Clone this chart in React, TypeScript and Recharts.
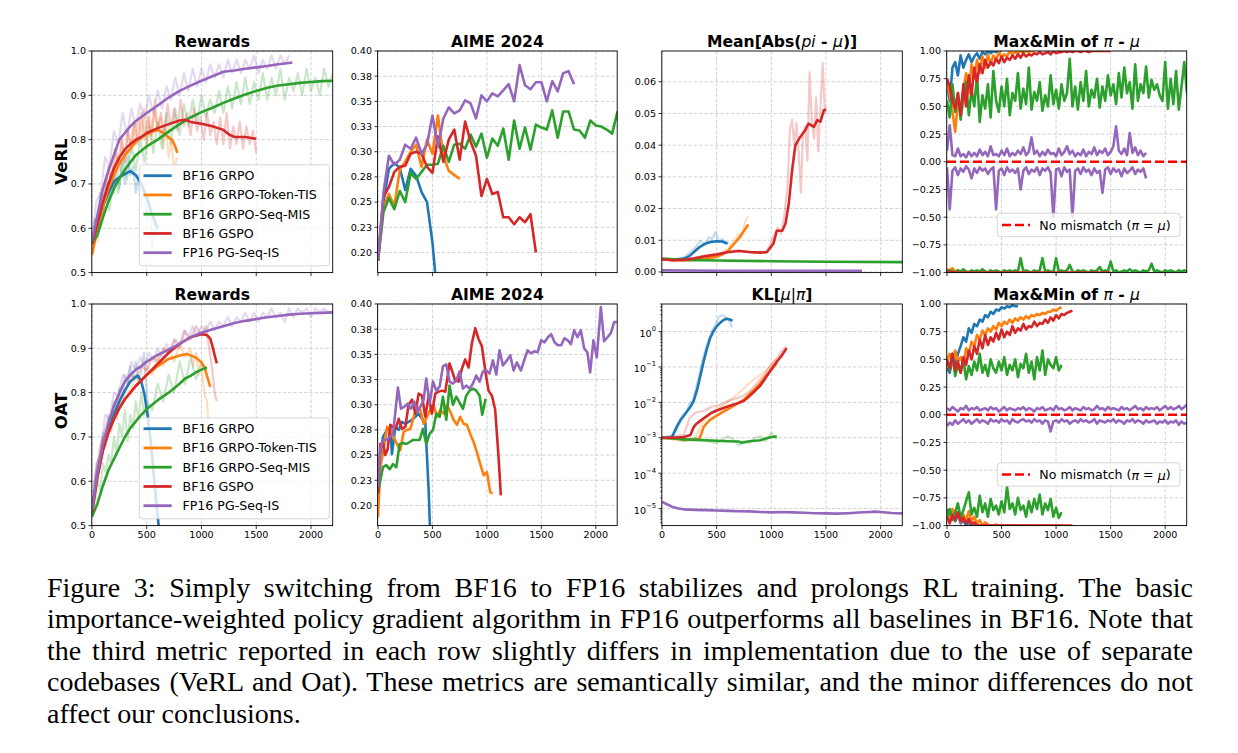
import React from 'react';
import { LineChart, Line, XAxis, YAxis, CartesianGrid } from 'recharts';

// ---------------- colours / names ----------------
const BLUE = '#1f77b4';
const ORANGE = '#ff7f0e';
const GREEN = '#2ca02c';
const RED = '#d62728';
const PURPLE = '#9467bd';
const NOMISMATCH_COLOR = '#ff0000';
const SERIES_NAMES = ['BF16 GRPO', 'BF16 GRPO-Token-TIS', 'BF16 GRPO-Seq-MIS', 'BF16 GSPO', 'FP16 PG-Seq-IS'];
const SERIES_COLORS = [BLUE, ORANGE, GREEN, RED, PURPLE];

// ---------------- axes ----------------
const X_TICKS = [0, 500, 1000, 1500, 2000];
const X_DOMAIN = [0, 2200];
const REWARD_TICKS = [0.5, 0.6, 0.7, 0.8, 0.9, 1.0];
const REWARD_DOMAIN = [0.5, 1.0];
const AIME_TICKS = [0.2, 0.225, 0.25, 0.275, 0.3, 0.325, 0.35, 0.375, 0.4];
const AIME_TICK_LABELS = ['0.20', '0.23', '0.25', '0.28', '0.30', '0.33', '0.35', '0.38', '0.40'];
const AIME_DOMAIN = [0.18, 0.4];
const MEANABS_TICKS = [0, 0.01, 0.02, 0.03, 0.04, 0.05, 0.06];
const MEANABS_DOMAIN = [-0.0002, 0.0697];
const MAXMIN_TICKS = [-1, -0.75, -0.5, -0.25, 0, 0.25, 0.5, 0.75, 1];
const MAXMIN_DOMAIN = [-1, 1];
const KL_MAJOR = [1e-5, 1e-4, 1e-3, 1e-2, 1e-1, 1];
const KL_EXPONENTS = ['\u22125', '\u22124', '\u22123', '\u22122', '\u22121', '0'];
const KL_DOMAIN = [3.3e-6, 6];

// ---------------- helpers ----------------
type Pt = { x: number; y: number };
const pair = (xs: number[], ys: number[]): Pt[] => ys.map((y, i) => ({ x: xs[i], y }));
const onGrid = (step: number, ys: number[]): Pt[] => ys.map((y, i) => ({ x: i * step, y }));

// ================= VeRL : Rewards =================
const V_REW_BLUE_X = [0, 50, 100, 150, 200, 250, 300, 350, 400, 450, 500, 550, 600];
const V_REW_BLUE = [0.565, 0.61, 0.65, 0.68, 0.705, 0.715, 0.722, 0.729, 0.72, 0.70, 0.67, 0.63, 0.60];
const V_REW_ORANGE_X = [0, 50, 100, 150, 200, 250, 300, 350, 400, 450, 500, 550, 600, 650, 700, 730, 760, 780];
const V_REW_ORANGE = [0.54, 0.60, 0.65, 0.69, 0.72, 0.745, 0.765, 0.78, 0.795, 0.805, 0.812, 0.818, 0.822, 0.815, 0.805, 0.80, 0.785, 0.77];
const V_REW_GREEN_X = [0, 50, 100, 150, 200, 250, 300, 400, 500, 600, 700, 800, 900, 1000, 1100, 1200, 1300, 1400, 1500, 1600, 1700, 1800, 1900, 2000, 2100, 2200];
const V_REW_GREEN = [0.565, 0.585, 0.625, 0.66, 0.69, 0.712, 0.732, 0.765, 0.785, 0.80, 0.818, 0.835, 0.85, 0.862, 0.872, 0.883, 0.893, 0.902, 0.91, 0.917, 0.922, 0.925, 0.928, 0.93, 0.932, 0.933];
const V_REW_RED_X = [0, 50, 100, 150, 200, 250, 300, 350, 400, 450, 500, 600, 700, 800, 850, 900, 1000, 1100, 1200, 1250, 1300, 1400, 1500];
const V_REW_RED = [0.565, 0.61, 0.66, 0.70, 0.735, 0.76, 0.778, 0.79, 0.80, 0.806, 0.815, 0.826, 0.835, 0.843, 0.845, 0.84, 0.836, 0.83, 0.822, 0.812, 0.806, 0.806, 0.802];
const V_REW_PURPLE_X = [0, 50, 100, 150, 200, 250, 300, 350, 400, 500, 600, 700, 800, 900, 1000, 1100, 1200, 1300, 1400, 1500, 1600, 1700, 1800, 1830];
const V_REW_PURPLE = [0.57, 0.63, 0.69, 0.73, 0.765, 0.80, 0.815, 0.83, 0.842, 0.86, 0.877, 0.895, 0.91, 0.922, 0.933, 0.943, 0.953, 0.956, 0.96, 0.963, 0.966, 0.97, 0.973, 0.974];

const V_REW_BLUE_RAW = [0.56, 0.62, 0.58, 0.68, 0.63, 0.70, 0.66, 0.72, 0.68, 0.74, 0.69, 0.75, 0.70, 0.77, 0.72, 0.74, 0.68, 0.72, 0.65, 0.70, 0.62, 0.66, 0.55, 0.63, 0.58];
const V_REW_ORANGE_RAW = [0.54, 0.60, 0.57, 0.66, 0.62, 0.72, 0.66, 0.75, 0.70, 0.78, 0.73, 0.80, 0.75, 0.82, 0.77, 0.84, 0.79, 0.85, 0.80, 0.87, 0.78, 0.86, 0.80, 0.89, 0.82, 0.85, 0.78, 0.83, 0.76, 0.80, 0.73, 0.76];
const V_REW_GREEN_RAW = [0.56, 0.60, 0.60, 0.67, 0.64, 0.72, 0.68, 0.76, 0.71, 0.79, 0.73, 0.80, 0.75, 0.83, 0.77, 0.84, 0.78, 0.86, 0.79, 0.87, 0.81, 0.88, 0.83, 0.89, 0.84, 0.90, 0.85, 0.89, 0.86, 0.91, 0.86, 0.92, 0.87, 0.93, 0.88, 0.94, 0.88, 0.93, 0.89, 0.95, 0.89, 0.94, 0.90, 0.96, 0.89, 0.94, 0.91, 0.95, 0.90, 0.96, 0.91, 0.94, 0.90, 0.96, 0.92, 0.95];
const V_REW_RED_RAW = [0.56, 0.62, 0.60, 0.68, 0.66, 0.74, 0.70, 0.78, 0.74, 0.80, 0.75, 0.82, 0.78, 0.84, 0.79, 0.86, 0.80, 0.85, 0.81, 0.87, 0.82, 0.86, 0.81, 0.88, 0.83, 0.87, 0.82, 0.89, 0.83, 0.86, 0.81, 0.87, 0.82, 0.85, 0.80, 0.86, 0.81, 0.84, 0.79, 0.85, 0.79, 0.86, 0.78, 0.83, 0.79, 0.84, 0.78, 0.83, 0.79, 0.82, 0.77];
const V_REW_PURPLE_RAW = [0.57, 0.66, 0.68, 0.76, 0.74, 0.82, 0.79, 0.86, 0.81, 0.87, 0.83, 0.88, 0.85, 0.90, 0.86, 0.91, 0.87, 0.92, 0.89, 0.94, 0.90, 0.95, 0.91, 0.96, 0.92, 0.96, 0.93, 0.97, 0.94, 0.97, 0.94, 0.98, 0.95, 0.98, 0.95, 0.98, 0.96, 0.99, 0.95, 0.98, 0.96, 0.99, 0.96, 0.99, 0.97, 0.99];

// ================= VeRL : AIME 2024 (evaluated every 50 steps) =================
const V_AIME_BLUE = [0.192, 0.25, 0.283, 0.289, 0.284, 0.262, 0.283, 0.276, 0.260, 0.250, 0.21, 0.15];
const V_AIME_ORANGE = [0.192, 0.245, 0.258, 0.246, 0.282, 0.29, 0.30, 0.307, 0.285, 0.312, 0.298, 0.336, 0.296, 0.281, 0.277, 0.273];
const V_AIME_GREEN = [0.192, 0.24, 0.254, 0.243, 0.261, 0.250, 0.279, 0.273, 0.280, 0.287, 0.287, 0.288, 0.306, 0.290, 0.307, 0.308, 0.303, 0.317, 0.305, 0.318, 0.294, 0.313, 0.306, 0.323, 0.292, 0.331, 0.303, 0.324, 0.302, 0.327, 0.324, 0.322, 0.341, 0.314, 0.340, 0.340, 0.322, 0.321, 0.314, 0.331, 0.326, 0.325, 0.322, 0.318, 0.340];
const V_AIME_RED = [0.192, 0.255, 0.265, 0.28, 0.285, 0.286, 0.298, 0.30, 0.298, 0.285, 0.279, 0.315, 0.29, 0.312, 0.322, 0.292, 0.33, 0.31, 0.296, 0.256, 0.273, 0.258, 0.26, 0.235, 0.235, 0.228, 0.235, 0.23, 0.238, 0.20];
const V_AIME_PURPLE = [0.192, 0.259, 0.296, 0.287, 0.292, 0.307, 0.303, 0.314, 0.298, 0.307, 0.336, 0.305, 0.333, 0.344, 0.338, 0.341, 0.351, 0.348, 0.333, 0.356, 0.350, 0.358, 0.355, 0.361, 0.367, 0.350, 0.386, 0.366, 0.362, 0.369, 0.369, 0.350, 0.370, 0.360, 0.378, 0.380, 0.367];

// ================= VeRL : Mean[Abs(pi - mu)] =================
const V_MA_BLUE_X = [0, 100, 200, 250, 300, 350, 400, 450, 500, 550, 600];
const V_MA_BLUE = [0.004, 0.0038, 0.0042, 0.005, 0.0065, 0.008, 0.009, 0.0095, 0.0097, 0.0096, 0.009];
const V_MA_ORANGE_X = [0, 100, 200, 300, 400, 500, 550, 600, 650, 700, 750, 790];
const V_MA_ORANGE = [0.004, 0.0037, 0.0037, 0.0038, 0.0042, 0.0048, 0.0055, 0.0065, 0.0085, 0.0105, 0.013, 0.015];
const V_MA_GREEN_X = [0, 200, 500, 1000, 1500, 2200];
const V_MA_GREEN = [0.0042, 0.0038, 0.0036, 0.0034, 0.0032, 0.0031];
const V_MA_RED_X = [0, 100, 200, 300, 400, 500, 600, 700, 800, 900, 960, 1020, 1050, 1100, 1130, 1160, 1190, 1220, 1265, 1310, 1340, 1390, 1420, 1450, 1480, 1500];
const V_MA_RED = [0.004, 0.0037, 0.0038, 0.0043, 0.005, 0.0055, 0.0062, 0.0066, 0.0063, 0.0061, 0.0063, 0.009, 0.013, 0.013, 0.0153, 0.0216, 0.032, 0.040, 0.0426, 0.0447, 0.0468, 0.0458, 0.0479, 0.0474, 0.051, 0.0513];
const V_MA_PURPLE_X = [0, 500, 1000, 1500, 1830];
const V_MA_PURPLE = [0.0005, 0.0004, 0.0004, 0.0004, 0.0004];
const V_MA_BLUE_RAW_X = [0, 100, 200, 250, 300, 350, 400, 430, 460, 490, 520, 550, 580, 610];
const V_MA_BLUE_RAW = [0.004, 0.0038, 0.0045, 0.006, 0.0075, 0.0098, 0.0085, 0.011, 0.0105, 0.0125, 0.0095, 0.0105, 0.0088, 0.0092];
const V_MA_ORANGE_RAW_X = [0, 200, 400, 500, 550, 600, 650, 700, 730, 760, 790];
const V_MA_ORANGE_RAW = [0.004, 0.0037, 0.0042, 0.005, 0.0062, 0.0072, 0.0095, 0.012, 0.011, 0.016, 0.0175];
const V_MA_RED_RAW_X = [0, 100, 200, 300, 400, 500, 600, 700, 800, 850, 900, 950, 1000, 1030, 1060, 1090, 1120, 1150, 1170, 1190, 1210, 1230, 1250, 1270, 1290, 1310, 1330, 1350, 1370, 1390, 1410, 1430, 1450, 1470, 1490, 1500];
const V_MA_RED_RAW = [0.0042, 0.0038, 0.004, 0.0045, 0.0052, 0.0058, 0.0064, 0.0068, 0.0062, 0.0058, 0.0065, 0.006, 0.0095, 0.012, 0.014, 0.012, 0.018, 0.028, 0.045, 0.048, 0.04, 0.047, 0.038, 0.025, 0.044, 0.046, 0.035, 0.063, 0.048, 0.042, 0.055, 0.038, 0.052, 0.066, 0.05, 0.052];

// ================= VeRL : Max&Min of pi - mu (every 25 steps) =================
const V_MM_BLUE_MAX = [0.72, 0.55, 0.85, 0.90, 0.78, 0.96, 0.85, 0.92, 0.97, 0.90, 0.95, 0.98, 0.93, 0.99, 0.97, 1.0, 0.98, 1.0, 0.99, 1.0, 1.0];
const V_MM_BLUE_MIN = [-0.99, -1.0, -0.99, -1.0, -1.0, -0.99, -1.0, -1.0, -1.0, -1.0, -1.0, -1.0, -1.0, -1.0, -1.0, -1.0, -1.0, -1.0, -1.0, -1.0, -1.0];
const V_MM_ORANGE_MAX = [0.70, 0.62, 0.45, 0.27, 0.55, 0.48, 0.65, 0.80, 0.62, 0.88, 0.75, 0.92, 0.80, 0.95, 0.85, 0.97, 0.88, 0.96, 0.92, 0.99, 0.94, 0.97, 0.95, 1.0, 0.97, 0.99, 0.98, 1.0, 0.99, 1.0, 0.99, 1.0, 1.0];
const V_MM_ORANGE_MIN = [-0.97, -0.98, -0.96, -0.99, -0.98, -1.0, -0.99, -1.0, -0.99, -1.0, -1.0, -0.99, -1.0, -1.0, -0.99, -1.0, -1.0, -1.0, -0.99, -1.0, -1.0, -1.0, -1.0, -0.99, -1.0, -1.0, -1.0, -1.0, -1.0, -1.0, -1.0, -1.0, -1.0];
const V_MM_GREEN_MAX = [
  0.55, 0.40, 0.70, 0.45, 0.62, 0.38, 0.58, 0.72, 0.42, 0.65,
  0.50, 0.78, 0.36, 0.60, 0.48, 0.70, 0.40, 0.82, 0.55, 0.45,
  0.68, 0.50, 0.75, 0.42, 0.62, 0.55, 0.80, 0.48, 0.66, 0.52,
  0.85, 0.47, 0.63, 0.55, 0.72, 0.46, 0.60, 0.50, 0.78, 0.52,
  0.65, 0.48, 0.70, 0.55, 0.62, 0.93, 0.50, 0.68, 0.47, 0.72,
  0.55, 0.82, 0.50, 0.65, 0.58, 0.75, 0.49, 0.68, 0.55, 0.78,
  0.60, 0.70, 0.52, 0.80, 0.58, 0.85, 0.62, 0.72, 0.48, 0.88,
  0.55, 0.70, 0.62, 0.86, 0.58, 0.74, 0.65, 0.70, 0.60, 0.55,
  0.90, 0.48, 0.75, 0.52, 0.82, 0.47, 0.68, 0.90, 0.62];
const V_MM_GREEN_MIN = [
  -0.99, -0.98, -0.99, -1.0, -0.98, -0.99, -0.97, -0.99, -1.0, -0.98,
  -0.99, -0.98, -0.99, -0.97, -0.99, -1.0, -0.98, -0.99, -0.98, -0.99,
  -1.0, -0.98, -0.99, -0.98, -0.99, -0.98, -0.99, -0.87, -0.99, -0.98,
  -0.99, -1.0, -0.98, -0.99, -0.98, -0.87, -0.99, -0.98, -0.99, -1.0,
  -0.87, -0.99, -0.98, -0.99, -0.98, -0.93, -0.99, -1.0, -0.98, -0.99,
  -0.98, -0.99, -1.0, -0.98, -0.99, -0.98, -0.95, -0.99, -0.98, -0.99,
  -0.90, -0.99, -0.98, -1.0, -0.99, -0.98, -0.99, -0.97, -0.99, -0.98,
  -0.99, -1.0, -0.98, -0.99, -0.98, -0.92, -0.99, -0.98, -0.99, -1.0,
  -0.98, -0.99, -0.98, -0.99, -1.0, -0.98, -0.99, -0.98, -0.99];
const V_MM_RED_MAX = [
  0.75, 0.68, 0.55, 0.48, 0.62, 0.42, 0.70, 0.50, 0.78, 0.60,
  0.85, 0.72, 0.88, 0.80, 0.92, 0.85, 0.90, 0.87, 0.93, 0.89,
  0.95, 0.90, 0.94, 0.92, 0.96, 0.93, 0.97, 0.94, 0.98, 0.95,
  0.97, 0.96, 0.98, 0.97, 0.99, 0.97, 0.98, 0.99, 0.97, 1.0,
  0.98, 0.99, 0.99, 1.0, 0.99, 1.0, 0.99, 1.0, 1.0, 0.99,
  1.0, 1.0, 0.99, 1.0, 1.0, 1.0, 1.0, 1.0, 1.0, 1.0, 1.0];
const V_MM_RED_MIN = [-0.99, -1.0, -1.0, -1.0, -1.0, -1.0, -1.0, -1.0, -1.0, -1.0, -1.0, -1.0, -1.0, -1.0, -1.0, -1.0];
const V_MM_PURPLE_MAX = [
  0.10, 0.33, 0.06, 0.05, 0.12, 0.05, 0.07, 0.04, 0.09, 0.05,
  0.08, 0.05, 0.11, 0.06, 0.09, 0.05, 0.14, 0.06, 0.07, 0.05,
  0.10, 0.06, 0.12, 0.05, 0.08, 0.06, 0.10, 0.07, 0.13, 0.06,
  0.09, 0.22, 0.07, 0.10, 0.05, 0.09, 0.06, 0.11, 0.07, 0.08,
  0.05, 0.12, 0.06, 0.09, 0.14, 0.07, 0.10, 0.05, 0.08, 0.06,
  0.11, 0.05, 0.09, 0.07, 0.13, 0.06, 0.10, 0.08, 0.12, 0.06,
  0.09, 0.14, 0.32, 0.10, 0.07, 0.12, 0.06, 0.26, 0.08, 0.13,
  0.06, 0.10, 0.05, 0.08];
const V_MM_PURPLE_MIN = [
  -0.05, -0.43, -0.08, -0.05, -0.12, -0.06, -0.09, -0.04, -0.07, -0.15,
  -0.06, -0.10, -0.05, -0.08, -0.06, -0.11, -0.07, -0.05, -0.43, -0.08,
  -0.06, -0.12, -0.05, -0.09, -0.07, -0.10, -0.06, -0.25, -0.08, -0.05,
  -0.11, -0.07, -0.09, -0.05, -0.12, -0.06, -0.08, -0.05, -0.10, -0.50,
  -0.07, -0.06, -0.13, -0.05, -0.09, -0.07, -0.50, -0.08, -0.06, -0.11,
  -0.05, -0.09, -0.07, -0.12, -0.06, -0.10, -0.08, -0.28, -0.07, -0.05,
  -0.11, -0.06, -0.09, -0.07, -0.13, -0.06, -0.10, -0.08, -0.05, -0.11,
  -0.07, -0.09, -0.06, -0.15];

// ================= OAT : Rewards =================
const O_REW_BLUE_X = [0, 50, 100, 150, 200, 250, 300, 350, 400, 420, 450, 480, 510, 540, 570, 600, 625];
const O_REW_BLUE = [0.53, 0.62, 0.68, 0.72, 0.75, 0.78, 0.805, 0.825, 0.836, 0.838, 0.825, 0.795, 0.745, 0.68, 0.60, 0.52, 0.46];
const O_REW_ORANGE_X = [0, 50, 100, 150, 200, 250, 300, 400, 500, 600, 700, 800, 870, 950, 1000, 1030, 1060, 1080];
const O_REW_ORANGE = [0.53, 0.61, 0.67, 0.71, 0.74, 0.765, 0.785, 0.815, 0.84, 0.86, 0.876, 0.884, 0.887, 0.879, 0.868, 0.855, 0.83, 0.813];
const O_REW_GREEN_X = [0, 50, 100, 150, 200, 250, 300, 350, 400, 450, 500, 600, 700, 800, 850, 900, 950, 1000, 1050];
const O_REW_GREEN = [0.52, 0.55, 0.59, 0.625, 0.65, 0.675, 0.70, 0.72, 0.735, 0.75, 0.763, 0.783, 0.80, 0.82, 0.832, 0.838, 0.846, 0.852, 0.857];
const O_REW_RED_X = [0, 50, 100, 150, 200, 250, 300, 400, 500, 600, 700, 800, 900, 1000, 1050, 1080, 1100, 1120, 1140];
const O_REW_RED = [0.53, 0.61, 0.67, 0.71, 0.74, 0.765, 0.785, 0.815, 0.84, 0.865, 0.89, 0.91, 0.925, 0.932, 0.93, 0.922, 0.905, 0.885, 0.866];
const O_REW_PURPLE_X = [0, 50, 100, 150, 200, 250, 300, 350, 400, 450, 500, 600, 700, 800, 900, 1000, 1100, 1200, 1300, 1400, 1500, 1600, 1700, 1800, 1900, 2000, 2100, 2200];
const O_REW_PURPLE = [0.535, 0.62, 0.685, 0.73, 0.77, 0.80, 0.825, 0.84, 0.852, 0.86, 0.87, 0.885, 0.897, 0.91, 0.925, 0.935, 0.943, 0.95, 0.957, 0.962, 0.966, 0.97, 0.973, 0.976, 0.978, 0.979, 0.98, 0.981];

const O_REW_BLUE_RAW = [0.53, 0.60, 0.64, 0.66, 0.71, 0.69, 0.75, 0.73, 0.78, 0.76, 0.81, 0.79, 0.84, 0.82, 0.86, 0.83, 0.87, 0.82, 0.85, 0.89, 0.80, 0.72, 0.66, 0.57, 0.52, 0.47];
const O_REW_ORANGE_RAW_X = [0, 25, 50, 75, 100, 125, 150, 175, 200, 225, 250, 275, 300, 350, 400, 450, 500, 550, 600, 650, 700, 750, 800, 850, 900, 925, 950, 975, 1000, 1025, 1050, 1065];
const O_REW_ORANGE_RAW = [0.53, 0.58, 0.63, 0.66, 0.70, 0.68, 0.73, 0.71, 0.76, 0.74, 0.78, 0.77, 0.81, 0.80, 0.84, 0.82, 0.86, 0.84, 0.88, 0.86, 0.90, 0.87, 0.91, 0.88, 0.90, 0.86, 0.89, 0.84, 0.86, 0.80, 0.78, 0.73];
const O_REW_RED_RAW_X = [0, 25, 50, 75, 100, 150, 200, 250, 300, 350, 400, 450, 500, 550, 600, 650, 700, 750, 800, 850, 900, 950, 1000, 1040, 1070, 1100, 1120, 1140];
const O_REW_RED_RAW = [0.53, 0.60, 0.64, 0.68, 0.70, 0.74, 0.76, 0.79, 0.80, 0.84, 0.83, 0.86, 0.85, 0.88, 0.87, 0.90, 0.89, 0.92, 0.90, 0.94, 0.92, 0.95, 0.93, 0.95, 0.90, 0.85, 0.80, 0.78];
const O_REW_GREEN_RAW_X = [0, 25, 50, 75, 100, 125, 150, 175, 200, 225, 250, 275, 300, 325, 350, 375, 400, 425, 450, 475, 500, 550, 600, 650, 700, 750, 800, 850, 900, 950, 1000, 1050];
const O_REW_GREEN_RAW = [0.52, 0.55, 0.60, 0.58, 0.64, 0.62, 0.66, 0.64, 0.70, 0.66, 0.73, 0.70, 0.76, 0.69, 0.75, 0.72, 0.78, 0.74, 0.80, 0.75, 0.78, 0.76, 0.82, 0.78, 0.84, 0.80, 0.87, 0.82, 0.88, 0.83, 0.87, 0.85];
const O_REW_PURPLE_RAW = [0.54, 0.64, 0.66, 0.75, 0.74, 0.80, 0.79, 0.84, 0.83, 0.87, 0.85, 0.88, 0.86, 0.89, 0.87, 0.90, 0.88, 0.91, 0.89, 0.92, 0.91, 0.94, 0.92, 0.95, 0.93, 0.95, 0.94, 0.96, 0.94, 0.96, 0.95, 0.97, 0.95, 0.97, 0.96, 0.98, 0.96, 0.98, 0.96, 0.98, 0.97, 0.99, 0.97, 0.98, 0.96, 0.99, 0.97, 0.99, 0.98, 0.99, 0.97, 0.99, 0.98, 0.99, 0.98, 0.98];

// ================= OAT : AIME 2024 =================
const O_AIME_BLUE_X = [0, 21, 46, 83, 113, 128, 159, 190, 220, 251, 281, 312, 343, 373, 404, 434, 465, 480];
const O_AIME_BLUE = [0.212, 0.25, 0.268, 0.275, 0.278, 0.251, 0.278, 0.275, 0.283, 0.281, 0.283, 0.285, 0.288, 0.291, 0.286, 0.283, 0.215, 0.17];
const O_AIME_ORANGE_X = [0, 21, 52, 83, 113, 144, 174, 205, 235, 266, 297, 327, 358, 388, 419, 450, 480, 511, 541, 572, 602, 633, 664, 694, 725, 755, 786, 817, 847, 878, 908, 939, 970, 1000, 1031, 1052];
const O_AIME_ORANGE = [0.188, 0.238, 0.256, 0.278, 0.275, 0.268, 0.261, 0.255, 0.273, 0.275, 0.276, 0.288, 0.298, 0.295, 0.281, 0.288, 0.295, 0.30, 0.288, 0.295, 0.291, 0.30, 0.293, 0.285, 0.28, 0.288, 0.281, 0.28, 0.271, 0.263, 0.253, 0.241, 0.23, 0.233, 0.213, 0.212];
const O_AIME_GREEN_X = [0, 21, 46, 76, 107, 138, 168, 199, 229, 260, 291, 321, 352, 382, 413, 443, 474, 505, 535, 566, 596, 627, 657, 688, 719, 749, 780, 810, 841, 872, 902, 933, 957, 988];
const O_AIME_GREEN = [0.212, 0.225, 0.238, 0.24, 0.236, 0.241, 0.238, 0.261, 0.262, 0.261, 0.263, 0.265, 0.265, 0.265, 0.276, 0.261, 0.271, 0.275, 0.291, 0.288, 0.308, 0.285, 0.319, 0.30, 0.308, 0.302, 0.296, 0.309, 0.314, 0.316, 0.314, 0.309, 0.29, 0.306];
const O_AIME_RED_X = [0, 21, 46, 67, 89, 113, 138, 162, 190, 220, 251, 281, 312, 343, 373, 404, 434, 465, 495, 526, 557, 587, 618, 657, 679, 709, 740, 771, 801, 832, 862, 893, 924, 954, 985, 1015, 1046, 1076, 1107, 1128];
const O_AIME_RED = [0.212, 0.261, 0.262, 0.25, 0.256, 0.28, 0.278, 0.276, 0.286, 0.276, 0.278, 0.30, 0.305, 0.291, 0.311, 0.309, 0.288, 0.309, 0.291, 0.311, 0.313, 0.314, 0.313, 0.341, 0.334, 0.324, 0.323, 0.336, 0.345, 0.337, 0.361, 0.376, 0.365, 0.358, 0.334, 0.314, 0.309, 0.295, 0.248, 0.21];
const O_AIME_PURPLE_X = [0, 21, 46, 76, 107, 138, 183, 211, 242, 272, 303, 333, 364, 394, 419, 443, 474, 505, 535, 566, 596, 627, 657, 688, 719, 749, 780, 810, 841, 872, 902, 933, 963, 994, 1024, 1055, 1086, 1116, 1147, 1177, 1214, 1245, 1275, 1312, 1342, 1373, 1404, 1434, 1465, 1498, 1529, 1560, 1590, 1621, 1651, 1682, 1712, 1743, 1771, 1801, 1832, 1862, 1893, 1923, 1948, 1978, 2009, 2046, 2076, 2107, 2138, 2168, 2193];
const O_AIME_PURPLE = [0.218, 0.256, 0.265, 0.265, 0.268, 0.271, 0.317, 0.296, 0.298, 0.301, 0.296, 0.303, 0.293, 0.299, 0.305, 0.326, 0.301, 0.323, 0.314, 0.318, 0.338, 0.340, 0.323, 0.321, 0.324, 0.333, 0.316, 0.319, 0.316, 0.321, 0.329, 0.323, 0.333, 0.334, 0.331, 0.344, 0.330, 0.354, 0.339, 0.343, 0.349, 0.334, 0.342, 0.334, 0.344, 0.354, 0.351, 0.353, 0.352, 0.364, 0.362, 0.367, 0.370, 0.362, 0.359, 0.359, 0.366, 0.364, 0.360, 0.374, 0.367, 0.374, 0.356, 0.352, 0.332, 0.364, 0.347, 0.397, 0.363, 0.367, 0.371, 0.382, 0.382];

// ================= OAT : KL[mu|pi] =================
const O_KL_BLUE_X = [0, 50, 90, 110, 140, 170, 200, 230, 260, 290, 320, 350, 380, 410, 440, 470, 500, 530, 560, 590, 620, 645];
const O_KL_BLUE = [1.0e-3, 1.0e-3, 1.0e-3, 1.4e-3, 2.2e-3, 3.2e-3, 4.2e-3, 5.6e-3, 7.5e-3, 0.011, 0.022, 0.055, 0.14, 0.32, 0.65, 1.0, 1.4, 1.75, 2.1, 2.3, 2.2, 2.0];
const O_KL_ORANGE_X = [0, 100, 200, 300, 340, 360, 380, 410, 440, 500, 550, 600, 650, 700, 750, 800, 850, 900, 950, 1000, 1050];
const O_KL_ORANGE = [1.0e-3, 0.95e-3, 0.9e-3, 0.88e-3, 0.92e-3, 1.3e-3, 2.0e-3, 2.6e-3, 3.2e-3, 4.2e-3, 5.2e-3, 6.3e-3, 7.8e-3, 9.6e-3, 0.012, 0.017, 0.024, 0.035, 0.056, 0.085, 0.13];
const O_KL_GREEN_X = [0, 100, 200, 300, 400, 500, 600, 700, 730, 800, 900, 950, 1000, 1050];
const O_KL_GREEN = [1.0e-3, 0.95e-3, 0.9e-3, 0.87e-3, 0.85e-3, 0.82e-3, 0.8e-3, 0.78e-3, 0.72e-3, 0.8e-3, 0.85e-3, 0.95e-3, 1.05e-3, 1.08e-3];
const O_KL_RED_X = [0, 100, 200, 260, 290, 310, 350, 400, 450, 500, 550, 600, 650, 700, 750, 800, 850, 900, 950, 1000, 1050, 1100, 1140];
const O_KL_RED = [1.0e-3, 1.0e-3, 1.05e-3, 1.2e-3, 2.0e-3, 2.4e-3, 3.0e-3, 3.9e-3, 5.0e-3, 5.9e-3, 6.7e-3, 7.6e-3, 8.6e-3, 9.6e-3, 0.011, 0.015, 0.021, 0.03, 0.05, 0.085, 0.14, 0.22, 0.34];
const O_KL_PURPLE_X = [0, 50, 100, 150, 200, 300, 400, 500, 600, 700, 800, 900, 1000, 1100, 1200, 1300, 1400, 1500, 1600, 1700, 1800, 1900, 1950, 2000, 2100, 2200];
const O_KL_PURPLE = [1.55e-5, 1.3e-5, 1.1e-5, 1.0e-5, 0.95e-5, 0.92e-5, 0.9e-5, 0.88e-5, 0.86e-5, 0.84e-5, 0.83e-5, 0.8e-5, 0.78e-5, 0.8e-5, 0.78e-5, 0.76e-5, 0.74e-5, 0.73e-5, 0.72e-5, 0.74e-5, 0.77e-5, 0.8e-5, 0.82e-5, 0.8e-5, 0.75e-5, 0.73e-5];
const O_KL_BLUE_RAW_X = [0, 50, 100, 130, 160, 190, 220, 250, 280, 310, 340, 370, 400, 430, 460, 490, 520, 550, 580, 610, 640];
const O_KL_BLUE_RAW = [0.001, 0.0011, 0.0012, 0.0016, 0.0025, 0.0045, 0.005, 0.009, 0.011, 0.025, 0.06, 0.15, 0.35, 0.6, 1.1, 1.6, 2.6, 2.9, 2.6, 2.2, 1.3];
const O_KL_ORANGE_RAW_X = [0, 100, 200, 300, 340, 380, 450, 500, 600, 700, 800, 900, 1000, 1050];
const O_KL_ORANGE_RAW = [0.001, 0.0009, 0.0008, 0.0009, 0.0018, 0.003, 0.005, 0.0065, 0.01, 0.018, 0.035, 0.06, 0.11, 0.18];
const O_KL_GREEN_RAW_X = [0, 100, 200, 300, 400, 500, 600, 650, 700, 750, 800, 850, 900, 950, 1000, 1050];
const O_KL_GREEN_RAW = [0.0009, 0.0011, 0.0008, 0.001, 0.0008, 0.0007, 0.0011, 0.0009, 0.0006, 0.0008, 0.0007, 0.001, 0.0011, 0.0008, 0.0014, 0.0009];
const O_KL_RED_RAW_X = [0, 100, 200, 250, 300, 350, 400, 450, 500, 550, 600, 650, 700, 750, 800, 850, 900, 950, 1000, 1050, 1100, 1140];
const O_KL_RED_RAW = [0.001, 0.0011, 0.0012, 0.0035, 0.005, 0.0055, 0.006, 0.0075, 0.008, 0.009, 0.011, 0.012, 0.0135, 0.016, 0.02, 0.03, 0.045, 0.07, 0.12, 0.17, 0.3, 0.38];

// ================= OAT : Max&Min of pi - mu (every 25 steps) =================
const O_MM_BLUE_MAX = [0.42, 0.38, 0.50, 0.45, 0.55, 0.62, 0.70, 0.66, 0.78, 0.74, 0.82, 0.80, 0.86, 0.84, 0.90, 0.88, 0.93, 0.91, 0.95, 0.94, 0.97, 0.96, 0.98, 0.97, 0.99, 0.98, 0.98];
const O_MM_BLUE_MIN = [-0.85, -0.92, -0.88, -0.96, -0.90, -0.98, -0.95, -1.0, -0.97, -1.0, -1.0, -0.99, -1.0, -1.0, -1.0, -1.0, -1.0, -1.0, -1.0, -1.0, -1.0, -1.0, -1.0, -1.0, -1.0, -1.0, -1.0];
const O_MM_ORANGE_MAX = [
  0.50, 0.55, 0.45, 0.58, 0.48, 0.52, 0.45, 0.60, 0.55, 0.66,
  0.62, 0.72, 0.68, 0.76, 0.72, 0.78, 0.75, 0.80, 0.77, 0.83,
  0.80, 0.84, 0.82, 0.86, 0.83, 0.87, 0.85, 0.88, 0.86, 0.89,
  0.87, 0.90, 0.89, 0.91, 0.90, 0.92, 0.91, 0.93, 0.93, 0.95,
  0.94, 0.96, 0.97];
const O_MM_ORANGE_MIN = [
  -0.88, -0.95, -0.85, -0.92, -0.88, -0.97, -0.90, -0.95, -0.87, -0.96,
  -0.92, -0.98, -0.95, -1.0, -0.97, -0.99, -1.0, -1.0, -0.99, -1.0,
  -1.0, -1.0, -1.0, -1.0, -1.0, -1.0, -1.0, -1.0, -1.0, -1.0,
  -1.0, -1.0, -1.0, -1.0, -1.0, -1.0, -1.0, -1.0, -1.0, -1.0,
  -1.0, -1.0, -1.0];
const O_MM_GREEN_MAX = [
  0.48, 0.40, 0.55, 0.35, 0.45, 0.38, 0.50, 0.32, 0.44, 0.36,
  0.48, 0.40, 0.55, 0.38, 0.45, 0.35, 0.50, 0.42, 0.38, 0.48,
  0.40, 0.52, 0.36, 0.45, 0.40, 0.50, 0.34, 0.46, 0.42, 0.55,
  0.38, 0.48, 0.32, 0.52, 0.40, 0.58, 0.36, 0.50, 0.45, 0.42,
  0.52, 0.40, 0.45];
const O_MM_GREEN_MIN = [
  -0.92, -0.85, -0.95, -0.88, -0.80, -0.93, -0.86, -0.78, -0.70, -0.90,
  -0.84, -0.92, -0.73, -0.88, -0.80, -0.92, -0.76, -0.86, -0.82, -0.90,
  -0.78, -0.88, -0.65, -0.85, -0.80, -0.90, -0.75, -0.86, -0.82, -0.92,
  -0.78, -0.88, -0.76, -0.85, -0.72, -0.90, -0.80, -0.86, -0.76, -0.92,
  -0.84, -0.93, -0.88];
const O_MM_RED_MAX = [
  0.50, 0.42, 0.55, 0.40, 0.48, 0.38, 0.52, 0.45, 0.58, 0.50,
  0.62, 0.55, 0.68, 0.60, 0.72, 0.63, 0.70, 0.66, 0.74, 0.68,
  0.77, 0.70, 0.75, 0.72, 0.80, 0.74, 0.78, 0.76, 0.82, 0.77,
  0.80, 0.79, 0.84, 0.80, 0.83, 0.82, 0.86, 0.83, 0.88, 0.85,
  0.90, 0.87, 0.91, 0.90, 0.92, 0.93, 0.94];
const O_MM_RED_MIN = [
  -0.92, -0.98, -0.90, -0.95, -0.88, -0.96, -0.93, -0.98, -0.94, -0.99,
  -0.97, -1.0, -1.0, -1.0, -1.0, -1.0, -1.0, -1.0, -1.0, -1.0,
  -1.0, -1.0, -1.0, -1.0, -1.0, -1.0, -1.0, -1.0, -1.0, -1.0,
  -1.0, -1.0, -1.0, -1.0, -1.0, -1.0, -1.0, -1.0, -1.0, -1.0,
  -1.0, -1.0, -1.0, -1.0, -1.0, -1.0, -1.0];
const O_MM_PURPLE_MAX = [
  0.06, 0.04, 0.07, 0.05, 0.03, 0.06, 0.05, 0.08, 0.04, 0.06,
  0.05, 0.07, 0.04, 0.05, 0.06, 0.04, 0.07, 0.05, 0.06, 0.03,
  0.05, 0.07, 0.04, 0.06, 0.05, 0.04, 0.06, 0.05, 0.07, 0.04,
  0.06, 0.05, 0.03, 0.06, 0.05, 0.07, 0.04, 0.05, 0.06, 0.04,
  0.08, 0.05, 0.06, 0.04, 0.05, 0.07, 0.04, 0.06, 0.05, 0.04,
  0.07, 0.05, 0.06, 0.04, 0.05, 0.08, 0.05, 0.06, 0.04, 0.07,
  0.05, 0.06, 0.05, 0.04, 0.07, 0.05, 0.06, 0.04, 0.06, 0.08,
  0.05, 0.06, 0.04, 0.07, 0.05, 0.06, 0.05, 0.07, 0.04, 0.06,
  0.08, 0.05, 0.07, 0.05, 0.06, 0.08, 0.05, 0.07, 0.09];
const O_MM_PURPLE_MIN = [
  -0.10, -0.07, -0.09, -0.05, -0.08, -0.06, -0.04, -0.07, -0.05, -0.08,
  -0.06, -0.04, -0.07, -0.05, -0.06, -0.08, -0.04, -0.06, -0.05, -0.07,
  -0.04, -0.06, -0.05, -0.08, -0.04, -0.06, -0.07, -0.05, -0.04, -0.06,
  -0.05, -0.07, -0.04, -0.06, -0.05, -0.08, -0.05, -0.06, -0.15, -0.06,
  -0.05, -0.07, -0.04, -0.06, -0.05, -0.08, -0.06, -0.05, -0.07, -0.04,
  -0.06, -0.05, -0.07, -0.06, -0.04, -0.08, -0.05, -0.06, -0.07, -0.05,
  -0.06, -0.04, -0.07, -0.05, -0.06, -0.08, -0.05, -0.06, -0.04, -0.07,
  -0.05, -0.06, -0.08, -0.05, -0.07, -0.06, -0.05, -0.08, -0.06, -0.07,
  -0.05, -0.08, -0.06, -0.07, -0.05, -0.09, -0.06, -0.08, -0.07];
const NO_MISMATCH_X = [0, 2200];
const NO_MISMATCH_Y = [0, 0];

// ---------------- text ----------------
const CAPTION_LINES = [
  'Figure 3: Simply switching from BF16 to FP16 stabilizes and prolongs RL training. The basic',
  'importance-weighted policy gradient algorithm in FP16 outperforms all baselines in BF16. Note that',
  'the third metric reported in each row slightly differs in implementation due to the use of separate',
  'codebases (VeRL and Oat). These metrics are semantically similar, and the minor differences do not',
  'affect our conclusions.',
];

// ---------------- layout ----------------
const FONT = "'DejaVu Sans', Verdana, sans-serif";
const COL_LEFT = [91.8, 377.6, 661.8, 946.7];
const COL_W = [240.9, 239.6, 240.5, 240.0];
const ROW_TOP = [51, 304];
const PLOT_H = 221.6;
const YW = 52;
const RM = 4;
const TM = 12;
const XH = 24;
const TICK_SIZE = 3.5;
const TICK_MARGIN = 2.5;
const TICK_FS = 9.6;
const LW = 2.6;

type S = { id: string; data: Pt[]; color: string; w: number; op: number; dash?: string };
const main = (id: string, data: Pt[], color: string): S => ({ id, data, color, w: LW, op: 1 });
const raw = (id: string, data: Pt[], color: string): S => ({ id, data, color, w: 2.2, op: 0.25 });

const KL_MINOR: number[] = [];
[-6, -5, -4, -3, -2, -1, 0].forEach((e) => {
  [2, 3, 4, 5, 6, 7, 8, 9].forEach((m) => {
    const v = m * Math.pow(10, e);
    if (v >= KL_DOMAIN[0] && v <= KL_DOMAIN[1]) KL_MINOR.push(v);
  });
});
const KL_TICKS = [...KL_MAJOR, ...KL_MINOR].sort((a, b) => a - b);

function KLTick(props: any) {
  const { x, y, payload } = props;
  const v = payload.value as number;
  const idx = KL_MAJOR.indexOf(v);
  const ax = x + TICK_SIZE + TICK_MARGIN;
  return (
    <g>
      <line x1={ax - (idx >= 0 ? TICK_SIZE : 2)} x2={ax} y1={y} y2={y} stroke="#000" strokeWidth={idx >= 0 ? 0.8 : 0.6} />
      {idx >= 0 && (
        <text x={x} y={y + 2} textAnchor="end" dominantBaseline="central" fontFamily={FONT} fontSize={TICK_FS} fill="#000">
          10
          <tspan dy={-4.5} fontSize={6.8}>{KL_EXPONENTS[idx]}</tspan>
        </text>
      )}
    </g>
  );
}

type PanelProps = {
  col: number;
  row: number;
  series: S[];
  yDomain: number[];
  yTicks: number[];
  gridY: number[];
  yFmt?: (v: number) => string;
  log?: boolean;
};

function Panel({ col, row, series, yDomain, yTicks, gridY, yFmt, log }: PanelProps) {
  const w = COL_W[col];
  const showX = row === 1;
  const tickStyle = { fontSize: TICK_FS, fill: '#000', fontFamily: FONT };
  return (
    <div style={{ position: 'absolute', left: COL_LEFT[col] - YW, top: ROW_TOP[row] - TM }}>
      <LineChart width={YW + w + RM} height={TM + PLOT_H + XH} margin={{ top: TM, right: RM, bottom: 0, left: 0 }}>
        <CartesianGrid
          stroke="#c8c8c8"
          strokeWidth={0.8}
          strokeDasharray="3.5 1.8"
          horizontalValues={gridY}
          verticalValues={X_TICKS}
        />
        <XAxis
          dataKey="x"
          type="number"
          domain={X_DOMAIN}
          ticks={X_TICKS}
          interval={0}
          allowDataOverflow
          axisLine={false}
          tickLine={{ stroke: '#000', strokeWidth: 0.8 }}
          tickSize={TICK_SIZE}
          tickMargin={2}
          height={XH}
          tick={tickStyle}
          tickFormatter={showX ? (v: number) => String(v) : () => ''}
        />
        {log ? (
          <YAxis
            type="number"
            scale="log"
            domain={yDomain}
            ticks={KL_TICKS}
            interval={0}
            allowDataOverflow
            width={YW}
            axisLine={false}
            tickLine={false}
            tickSize={TICK_SIZE}
            tickMargin={TICK_MARGIN}
            tick={KLTick}
          />
        ) : (
          <YAxis
            type="number"
            domain={yDomain}
            ticks={yTicks}
            interval={0}
            allowDataOverflow
            width={YW}
            axisLine={false}
            tickLine={{ stroke: '#000', strokeWidth: 0.8 }}
            tickSize={TICK_SIZE}
            tickMargin={TICK_MARGIN}
            tick={tickStyle}
            tickFormatter={yFmt}
          />
        )}
        {series.map((s) => (
          <Line
            key={s.id}
            data={s.data}
            dataKey="y"
            type="linear"
            stroke={s.color}
            strokeWidth={s.w}
            strokeOpacity={s.op}
            strokeDasharray={s.dash}
            strokeLinejoin="round"
            dot={false}
            activeDot={false}
            isAnimationActive={false}
          />
        ))}
      </LineChart>
    </div>
  );
}

const fmt1 = (v: number) => v.toFixed(1);
const fmt2 = (v: number) => v.toFixed(2);
const fmtMM = (v: number) => v.toFixed(2).replace('-', '\u2212');
const fmtAime = (v: number) => AIME_TICK_LABELS[AIME_TICKS.indexOf(v)] ?? v.toFixed(2);

// ---------------- series per panel ----------------
const P_V_REW: S[] = [
  raw('br', onGrid(25, V_REW_BLUE_RAW), BLUE),
  raw('or', onGrid(25, V_REW_ORANGE_RAW), ORANGE),
  raw('gr', onGrid(40, V_REW_GREEN_RAW), GREEN),
  raw('rr', onGrid(30, V_REW_RED_RAW), RED),
  raw('pr', onGrid(40, V_REW_PURPLE_RAW), PURPLE),
  main('b', pair(V_REW_BLUE_X, V_REW_BLUE), BLUE),
  main('o', pair(V_REW_ORANGE_X, V_REW_ORANGE), ORANGE),
  main('g', pair(V_REW_GREEN_X, V_REW_GREEN), GREEN),
  main('r', pair(V_REW_RED_X, V_REW_RED), RED),
  main('p', pair(V_REW_PURPLE_X, V_REW_PURPLE), PURPLE),
];
const P_V_AIME: S[] = [
  main('b', onGrid(50, V_AIME_BLUE), BLUE),
  main('o', onGrid(50, V_AIME_ORANGE), ORANGE),
  main('g', onGrid(50, V_AIME_GREEN), GREEN),
  main('r', onGrid(50, V_AIME_RED), RED),
  main('p', onGrid(50, V_AIME_PURPLE), PURPLE),
];
const P_V_MA: S[] = [
  raw('br', pair(V_MA_BLUE_RAW_X, V_MA_BLUE_RAW), BLUE),
  raw('or', pair(V_MA_ORANGE_RAW_X, V_MA_ORANGE_RAW), ORANGE),
  raw('rr', pair(V_MA_RED_RAW_X, V_MA_RED_RAW), RED),
  main('b', pair(V_MA_BLUE_X, V_MA_BLUE), BLUE),
  main('o', pair(V_MA_ORANGE_X, V_MA_ORANGE), ORANGE),
  main('g', pair(V_MA_GREEN_X, V_MA_GREEN), GREEN),
  main('r', pair(V_MA_RED_X, V_MA_RED), RED),
  main('p', pair(V_MA_PURPLE_X, V_MA_PURPLE), PURPLE),
];
const P_V_MM: S[] = [
  main('bmax', onGrid(25, V_MM_BLUE_MAX), BLUE),
  main('bmin', onGrid(25, V_MM_BLUE_MIN), BLUE),
  main('omax', onGrid(25, V_MM_ORANGE_MAX), ORANGE),
  main('omin', onGrid(25, V_MM_ORANGE_MIN), ORANGE),
  main('gmax', onGrid(25, V_MM_GREEN_MAX), GREEN),
  main('gmin', onGrid(25, V_MM_GREEN_MIN), GREEN),
  main('rmax', onGrid(25, V_MM_RED_MAX), RED),
  main('rmin', onGrid(100, V_MM_RED_MIN), RED),
  main('pmax', onGrid(25, V_MM_PURPLE_MAX), PURPLE),
  main('pmin', onGrid(25, V_MM_PURPLE_MIN), PURPLE),
  { id: 'zero', data: pair(NO_MISMATCH_X, NO_MISMATCH_Y), color: NOMISMATCH_COLOR, w: 2.6, op: 1, dash: '9 4' },
];
const P_O_REW: S[] = [
  raw('br', onGrid(25, O_REW_BLUE_RAW), BLUE),
  raw('or', pair(O_REW_ORANGE_RAW_X, O_REW_ORANGE_RAW), ORANGE),
  raw('gr', pair(O_REW_GREEN_RAW_X, O_REW_GREEN_RAW), GREEN),
  raw('rr', pair(O_REW_RED_RAW_X, O_REW_RED_RAW), RED),
  raw('pr', onGrid(40, O_REW_PURPLE_RAW), PURPLE),
  main('b', pair(O_REW_BLUE_X, O_REW_BLUE), BLUE),
  main('o', pair(O_REW_ORANGE_X, O_REW_ORANGE), ORANGE),
  main('g', pair(O_REW_GREEN_X, O_REW_GREEN), GREEN),
  main('r', pair(O_REW_RED_X, O_REW_RED), RED),
  main('p', pair(O_REW_PURPLE_X, O_REW_PURPLE), PURPLE),
];
const P_O_AIME: S[] = [
  main('b', pair(O_AIME_BLUE_X, O_AIME_BLUE), BLUE),
  main('o', pair(O_AIME_ORANGE_X, O_AIME_ORANGE), ORANGE),
  main('g', pair(O_AIME_GREEN_X, O_AIME_GREEN), GREEN),
  main('r', pair(O_AIME_RED_X, O_AIME_RED), RED),
  main('p', pair(O_AIME_PURPLE_X, O_AIME_PURPLE), PURPLE),
];
const P_O_KL: S[] = [
  raw('br', pair(O_KL_BLUE_RAW_X, O_KL_BLUE_RAW), BLUE),
  raw('or', pair(O_KL_ORANGE_RAW_X, O_KL_ORANGE_RAW), ORANGE),
  raw('gr', pair(O_KL_GREEN_RAW_X, O_KL_GREEN_RAW), GREEN),
  raw('rr', pair(O_KL_RED_RAW_X, O_KL_RED_RAW), RED),
  main('b', pair(O_KL_BLUE_X, O_KL_BLUE), BLUE),
  main('o', pair(O_KL_ORANGE_X, O_KL_ORANGE), ORANGE),
  main('g', pair(O_KL_GREEN_X, O_KL_GREEN), GREEN),
  main('r', pair(O_KL_RED_X, O_KL_RED), RED),
  main('p', pair(O_KL_PURPLE_X, O_KL_PURPLE), PURPLE),
];
const P_O_MM: S[] = [
  main('bmax', onGrid(25, O_MM_BLUE_MAX), BLUE),
  main('bmin', onGrid(25, O_MM_BLUE_MIN), BLUE),
  main('omax', onGrid(25, O_MM_ORANGE_MAX), ORANGE),
  main('omin', onGrid(25, O_MM_ORANGE_MIN), ORANGE),
  main('gmax', onGrid(25, O_MM_GREEN_MAX), GREEN),
  main('gmin', onGrid(25, O_MM_GREEN_MIN), GREEN),
  main('rmax', onGrid(25, O_MM_RED_MAX), RED),
  main('rmin', onGrid(25, O_MM_RED_MIN), RED),
  main('pmax', onGrid(25, O_MM_PURPLE_MAX), PURPLE),
  main('pmin', onGrid(25, O_MM_PURPLE_MIN), PURPLE),
  { id: 'zero', data: pair(NO_MISMATCH_X, NO_MISMATCH_Y), color: NOMISMATCH_COLOR, w: 2.6, op: 1, dash: '9 4' },
];

// ---------------- overlay pieces ----------------
const It = ({ children }: { children: any }) => (
  <tspan fontStyle="italic" fontWeight="normal">{children}</tspan>
);

function Title({ col, row, children }: { col: number; row: number; children: any }) {
  const cx = COL_LEFT[col] + COL_W[col] / 2;
  return (
    <text x={cx} y={ROW_TOP[row] - 4.3} textAnchor="middle" fontFamily={FONT} fontWeight="bold" fontSize={15.6} fill="#000">
      {children}
    </text>
  );
}

function SeriesLegend({ row }: { row: number }) {
  const left = 139.3;
  const width = 190;
  const height = 101;
  const top = ROW_TOP[row] + PLOT_H - 6.8 - height;
  return (
    <g>
      <rect x={left} y={top} width={width} height={height} rx={3} fill="#fff" fillOpacity={0.8} stroke="#cccccc" strokeWidth={0.8} />
      {SERIES_NAMES.map((name, i) => {
        const cy = top + 10.9 + 19.25 * i;
        return (
          <g key={name}>
            <line x1={left + 4.2} x2={left + 32.4} y1={cy} y2={cy} stroke={SERIES_COLORS[i]} strokeWidth={2.8} />
            <text x={left + 43.2} y={cy} dominantBaseline="central" fontFamily={FONT} fontSize={12.6} fill="#000">
              {name}
            </text>
          </g>
        );
      })}
    </g>
  );
}

function MismatchLegend({ top }: { top: number }) {
  const left = 997.3;
  const width = 182.7;
  const height = 23.4;
  const cy = top + height / 2;
  return (
    <g>
      <rect x={left} y={top} width={width} height={height} rx={3} fill="#fff" fillOpacity={0.8} stroke="#cccccc" strokeWidth={0.8} />
      <line x1={left + 4.7} x2={left + 32.7} y1={cy} y2={cy} stroke={NOMISMATCH_COLOR} strokeWidth={2.6} strokeDasharray="9 4" />
      <text x={left + 42} y={cy} dominantBaseline="central" fontFamily={FONT} fontSize={12.6} fill="#000">
        No mismatch (<It>π</It> = <It>μ</It>)
      </text>
    </g>
  );
}

export default function App() {
  return (
    <div style={{ position: 'absolute', left: 0, top: 0, width: 1238, height: 753, background: '#fff', overflow: 'hidden' }}>
      <Panel col={0} row={0} series={P_V_REW} yDomain={REWARD_DOMAIN} yTicks={REWARD_TICKS} gridY={REWARD_TICKS} yFmt={fmt1} />
      <Panel col={1} row={0} series={P_V_AIME} yDomain={AIME_DOMAIN} yTicks={AIME_TICKS} gridY={AIME_TICKS} yFmt={fmtAime} />
      <Panel col={2} row={0} series={P_V_MA} yDomain={MEANABS_DOMAIN} yTicks={MEANABS_TICKS} gridY={MEANABS_TICKS} yFmt={fmt2} />
      <Panel col={3} row={0} series={P_V_MM} yDomain={MAXMIN_DOMAIN} yTicks={MAXMIN_TICKS} gridY={MAXMIN_TICKS} yFmt={fmtMM} />
      <Panel col={0} row={1} series={P_O_REW} yDomain={REWARD_DOMAIN} yTicks={REWARD_TICKS} gridY={REWARD_TICKS} yFmt={fmt1} />
      <Panel col={1} row={1} series={P_O_AIME} yDomain={AIME_DOMAIN} yTicks={AIME_TICKS} gridY={AIME_TICKS} yFmt={fmtAime} />
      <Panel col={2} row={1} series={P_O_KL} yDomain={KL_DOMAIN} yTicks={KL_TICKS} gridY={KL_MAJOR} log />
      <Panel col={3} row={1} series={P_O_MM} yDomain={MAXMIN_DOMAIN} yTicks={MAXMIN_TICKS} gridY={MAXMIN_TICKS} yFmt={fmtMM} />

      <svg width={1238} height={753} style={{ position: 'absolute', left: 0, top: 0, pointerEvents: 'none' }}>
        {[0, 1].map((r) =>
          [0, 1, 2, 3].map((c) => (
            <rect key={`sp${r}${c}`} x={COL_LEFT[c]} y={ROW_TOP[r]} width={COL_W[c]} height={PLOT_H} fill="none" stroke="#000" strokeWidth={0.9} />
          ))
        )}
        <Title col={0} row={0}>Rewards</Title>
        <Title col={1} row={0}>AIME 2024</Title>
        <Title col={2} row={0}>Mean[Abs(<It>pi</It> - <It>μ</It>)]</Title>
        <Title col={3} row={0}>Max&amp;Min of <It>π</It> - <It>μ</It></Title>
        <Title col={0} row={1}>Rewards</Title>
        <Title col={1} row={1}>AIME 2024</Title>
        <Title col={2} row={1}>KL[<It>μ</It><tspan fontWeight="normal">|</tspan><It>π</It>]</Title>
        <Title col={3} row={1}>Max&amp;Min of <It>π</It> - <It>μ</It></Title>

        <text x={61} y={161.5} transform="rotate(-90 61 161.5)" textAnchor="middle" dominantBaseline="central" fontFamily={FONT} fontWeight="bold" fontSize={16.5} fill="#000">VeRL</text>
        <text x={61} y={411} transform="rotate(-90 61 411)" textAnchor="middle" dominantBaseline="central" fontFamily={FONT} fontWeight="bold" fontSize={16.5} fill="#000">OAT</text>

        <SeriesLegend row={0} />
        <SeriesLegend row={1} />
        <MismatchLegend top={213.3} />
        <MismatchLegend top={462.8} />
      </svg>

      {CAPTION_LINES.map((line, i) => (
        <div
          key={i}
          style={{
            position: 'absolute',
            left: 47,
            top: 571.5 + i * 31.6,
            width: 1146,
            fontFamily: "'Liberation Serif', 'Times New Roman', serif",
            fontSize: 28,
            lineHeight: '31.6px',
            color: '#000',
            textAlign: 'justify',
            textAlignLast: i < CAPTION_LINES.length - 1 ? 'justify' : 'left',
          } as React.CSSProperties}
        >
          {line}
        </div>
      ))}
    </div>
  );
}
